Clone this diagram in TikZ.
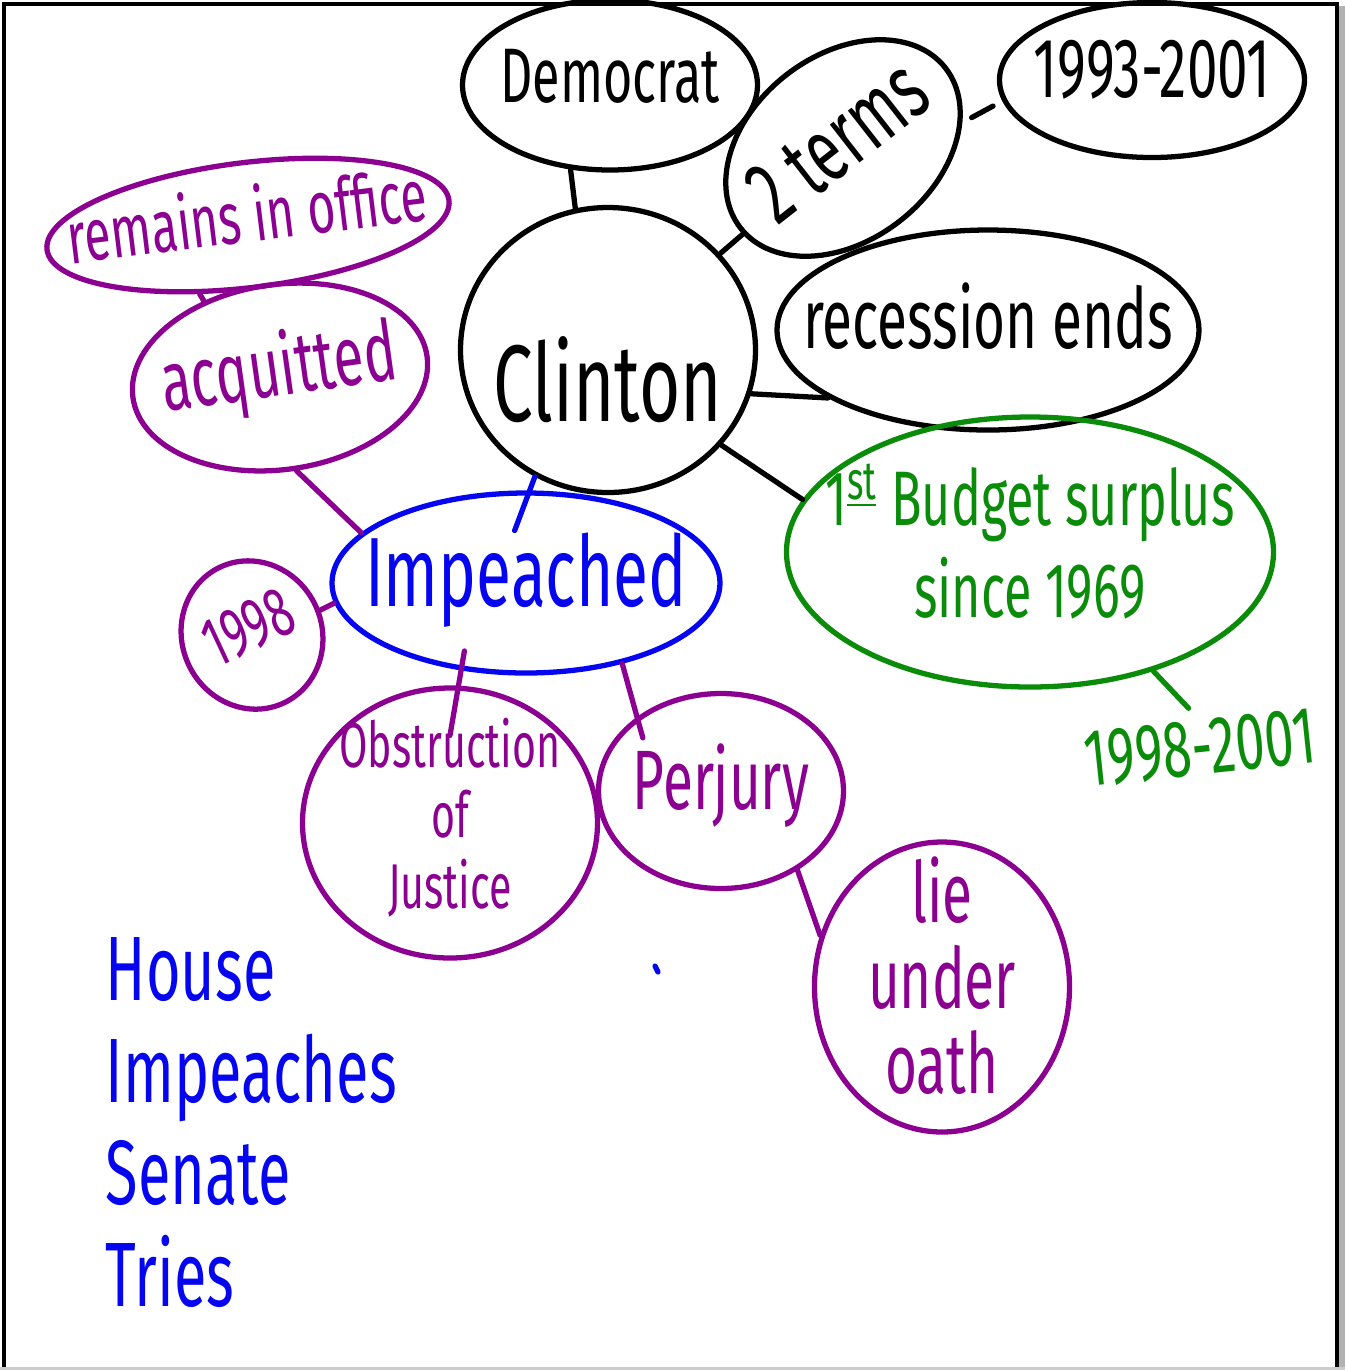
\documentclass[tikz,border=0pt]{standalone}
\usepackage{fontspec}
\newfontfamily\penfont{Fira Sans}[FakeStretch=0.65]
\usetikzlibrary{shapes.geometric}
\definecolor{penpurple}{RGB}{140,0,145}
\definecolor{penblue}{RGB}{5,5,240}
\definecolor{pengreen}{RGB}{10,140,10}
% text that does not stretch its bubble
\newcommand{\inkbox}[1]{\makebox[0pt]{\smash{\raisebox{-.25em}{\begin{tabular}{@{}c@{}}#1\end{tabular}}}}}

\begin{document}
\begin{tikzpicture}[
  bubble/.style={ellipse, draw, line width=1.5pt, inner sep=0pt},
  pur/.style={bubble, draw=penpurple, text=penpurple},
  ink/.style={line width=1.5pt, line cap=round},
  pen/.style 2 args={font=\penfont\fontsize{#1}{#2}\selectfont}]
\useasboundingbox (0,0) rectangle (13.45,-13.70);
% page frame
\fill[gray!60] (13.39,-0.06) rectangle (13.45,-13.70);
\fill[gray!40] (0,-13.67) rectangle (13.45,-13.70);
\draw[line width=1pt] (0.04,-13.67) -- (0.04,-0.04) -- (13.37,-0.04) -- (13.37,-13.67);

% black part
\node[bubble, minimum width=2.95cm, minimum height=1.70cm, pen={22}{24}] (Dem) at (6.10,-0.85) {\inkbox{Democrat}};
\node[bubble, rotate=38, minimum width=2.6cm, minimum height=1.85cm, pen={26}{30}] (Trm) at (8.43,-1.48) {\inkbox{2 terms}};
\node[bubble, minimum width=3.05cm, minimum height=1.55cm, pen={24}{26}] (Yrs) at (11.52,-0.80) {\inkbox{1993-2001}};
\node[bubble, minimum width=2.95cm, minimum height=2.85cm, pen={31}{34}] (Cl) at (6.08,-3.50) {\inkbox{\raisebox{-.45em}{Clinton}}};
\node[bubble, minimum width=4.22cm, minimum height=2.00cm, pen={24}{26}] (Rec) at (9.88,-3.30) {\inkbox{recession ends}};
% green part
\node[bubble, draw=pengreen, text=pengreen, minimum width=4.87cm, minimum height=2.70cm, pen={22}{26}] (Bud) at (10.30,-5.52) {\inkbox{1\textsuperscript{\underline{st}} Budget surplus\\since 1969}};
\node[text=pengreen, rotate=6, pen={23}{24}] (Gy) at (12.00,-7.48) {1998-2001};
% purple and blue part
\node[pur, rotate=7, minimum width=4.05cm, minimum height=1.25cm, pen={21}{24}] (Off) at (2.48,-2.25) {\inkbox{remains in office}};
\node[pur, rotate=8, minimum width=2.97cm, minimum height=1.85cm, pen={24}{26}] (Acq) at (2.80,-3.77) {\inkbox{acquitted}};
\node[bubble, draw=penblue, text=penblue, minimum width=3.88cm, minimum height=1.80cm, pen={28}{30}] (Imp) at (5.26,-5.83) {\inkbox{Impeached}};
\node[pur, rotate=25, minimum width=1.40cm, minimum height=1.50cm, pen={20}{22}] (Y98) at (2.52,-6.35) {\inkbox{1998}};
\node[pur, minimum width=2.95cm, minimum height=2.70cm, pen={18}{20}] (Obs) at (4.50,-8.23) {\inkbox{Obstruction\\of\\Justice}};
\node[pur, minimum width=2.45cm, minimum height=1.95cm, pen={24}{26}] (Per) at (7.21,-7.91) {\inkbox{Perjury}};
\node[pur, minimum width=2.55cm, minimum height=2.90cm, pen={24}{21}] (Lie) at (9.42,-9.87) {\inkbox{lie\\under\\oath}};
\node[text=penblue, align=left, anchor=north west, inner sep=0pt, pen={26}{29}] (Hs) at (1.05,-9.37) {House\\Impeaches\\Senate\\Tries};

\draw[ink] (Dem.245) -- (Cl.103);
\draw[ink] (Cl) -- (Trm);
\draw[ink, shorten <=3pt, shorten >=3pt] (Trm.-26) -- (Yrs.188);
\draw[ink] (Cl.-17) -- (Rec.203);
\draw[ink] (Cl.-40) -- (Bud.167);
\draw[ink, pengreen] (Bud.-44) -- (Gy.100);
\draw[ink, penpurple] (Off.228) -- (Acq.127);
\draw[ink, penpurple] (Acq.-88) -- (Imp.163);
\draw[ink, penblue] ([yshift=-0.4cm]Imp.97) -- (Cl.240);
\draw[ink, penpurple] (Y98.-5) -- (Imp.186);
\draw[ink, penpurple] ([yshift=0.2cm]Imp.235) -- ([yshift=-0.5cm]Obs.north);
\draw[ink, penpurple] (Imp.-40) -- ([yshift=-0.25cm]Per.135);
\draw[ink, penpurple] (Per.-46) -- (Lie.157);
\draw[ink, penblue] (6.55,-9.66) -- (6.58,-9.72);
\end{tikzpicture}
\end{document}
